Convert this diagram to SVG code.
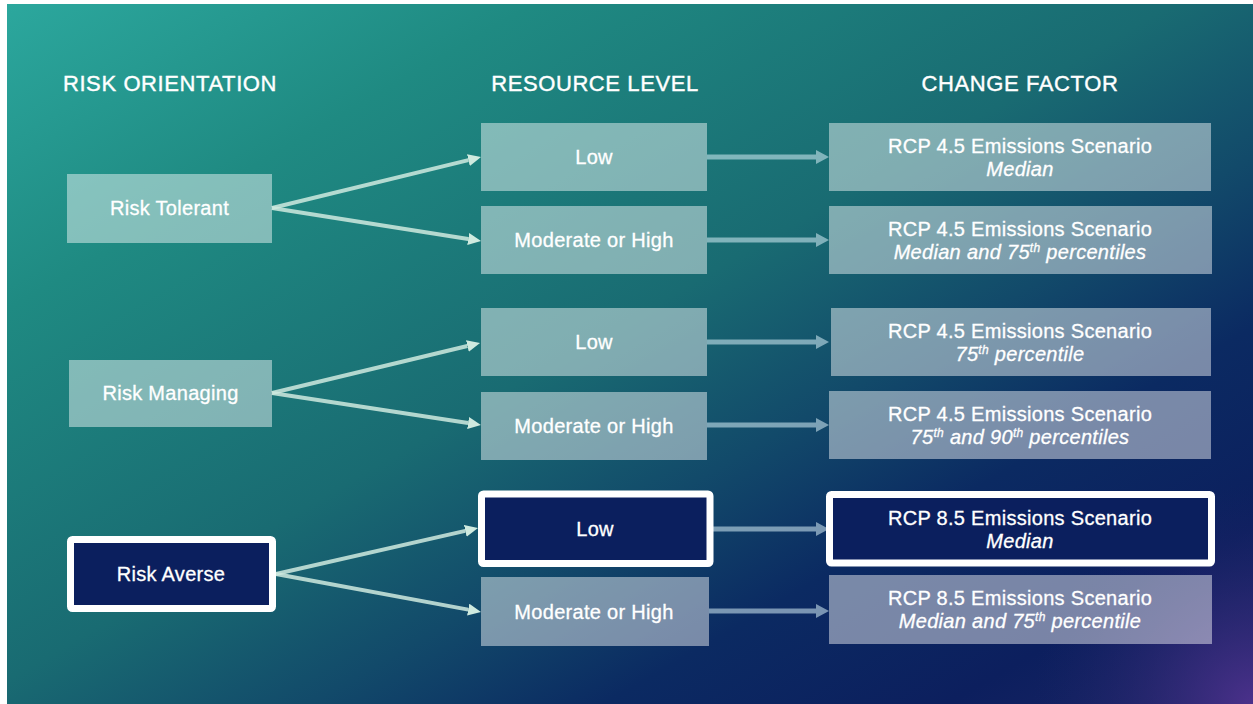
<svg xmlns="http://www.w3.org/2000/svg" width="1253" height="704" viewBox="0 0 1253 704">
  <defs>
    <linearGradient id="bg" gradientUnits="userSpaceOnUse" x1="0" y1="0" x2="618" y2="1066">
      <stop offset="0" stop-color="#2ca89e"/>
      <stop offset="0.22" stop-color="#1f8a82"/>
      <stop offset="0.48" stop-color="#196b72"/>
      <stop offset="0.62" stop-color="#124a6a"/>
      <stop offset="0.74" stop-color="#0b2a62"/>
      <stop offset="0.88" stop-color="#0c1f5e"/>
      <stop offset="1" stop-color="#1c2466"/>
    </linearGradient>
    <radialGradient id="glow" gradientUnits="userSpaceOnUse" cx="1253" cy="704" r="220">
      <stop offset="0" stop-color="#50328f" stop-opacity="0.9"/>
      <stop offset="0.5" stop-color="#3a2c7c" stop-opacity="0.4"/>
      <stop offset="1" stop-color="#1c2466" stop-opacity="0"/>
    </radialGradient>
    <marker id="headFan" markerUnits="userSpaceOnUse" viewBox="0 0 13 12" markerWidth="13" markerHeight="12" refX="0" refY="6" orient="auto">
      <path d="M0,0 L13,6 L0,12 z" fill="#cfeadf"/>
    </marker>
    <marker id="headFlow" markerUnits="userSpaceOnUse" viewBox="0 0 13 14" markerWidth="13" markerHeight="14" refX="0" refY="7" orient="auto">
      <path d="M0,0 L13,7 L0,14 z" fill="#d6eef6"/>
    </marker>
    <style>
      text { font-family: "Liberation Sans", Arial, Helvetica, sans-serif; fill: #ffffff; text-anchor: middle; stroke: #ffffff; stroke-width: 0.3px; }
      .hdr { font-size: 22px; letter-spacing: 0.6px; stroke-width: 0.4px; }
      .lbl { font-size: 20px; letter-spacing: 0.3px; }
      .it { font-size: 20px; letter-spacing: 0.3px; font-style: italic; }
      .sup { font-size: 12px; }
      .soft { fill: #ffffff; fill-opacity: 0.45; }
      .key { fill: #0b1f5e; stroke: #ffffff; stroke-width: 7; }
      .fan { stroke: #cfeadf; stroke-opacity: 0.85; stroke-width: 4; fill: none; marker-end: url(#headFan); }
      .flow { stroke: #d6eef6; stroke-width: 5; fill: none; opacity: 0.55; marker-end: url(#headFlow); }
    </style>
  </defs>

  <!-- backdrop -->
  <rect x="0" y="0" width="1253" height="704" fill="#ffffff"/>
  <rect x="7" y="4" width="1246" height="700" fill="url(#bg)"/>
  <rect x="7" y="4" width="1246" height="700" fill="url(#glow)"/>

  <!-- column headings -->
  <g id="headings">
    <text class="hdr" x="170" y="91">RISK ORIENTATION</text>
    <text class="hdr" x="595" y="91">RESOURCE LEVEL</text>
    <text class="hdr" x="1020" y="91">CHANGE FACTOR</text>
  </g>

  <!-- connectors -->
  <g id="connectors">
    <path class="fan" d="M272,208 L468.4,160.1"/>
    <path class="fan" d="M272,208 L468.2,239"/>
    <path class="fan" d="M272,393 L467.4,346"/>
    <path class="fan" d="M272,393 L468.1,423"/>
    <path class="fan" d="M276,574 L465.3,530.9"/>
    <path class="fan" d="M276,574 L468.2,609.6"/>

    <path class="flow" d="M707,157 L816,157"/>
    <path class="flow" d="M707,240 L816,240"/>
    <path class="flow" d="M707,342 L816,342"/>
    <path class="flow" d="M707,425 L816,425"/>
    <path class="flow" d="M713,529 L816,529"/>
    <path class="flow" d="M709,611 L816,611"/>
  </g>

  <!-- risk orientation -->
  <g id="risk-tolerant">
    <rect class="soft" x="67" y="174" width="205" height="69"/>
    <text class="lbl" x="169.5" y="215">Risk Tolerant</text>
  </g>
  <g id="risk-managing">
    <rect class="soft" x="69" y="360" width="203" height="67"/>
    <text class="lbl" x="170.5" y="400">Risk Managing</text>
  </g>
  <g id="risk-averse">
    <rect class="key" x="70.5" y="539.5" width="202" height="69" rx="2"/>
    <text class="lbl" x="171" y="581">Risk Averse</text>
  </g>

  <!-- resource level -->
  <g id="tolerant-low">
    <rect class="soft" x="481" y="123" width="226" height="68"/>
    <text class="lbl" x="594" y="164">Low</text>
  </g>
  <g id="tolerant-high">
    <rect class="soft" x="481" y="206" width="226" height="68"/>
    <text class="lbl" x="594" y="247">Moderate or High</text>
  </g>
  <g id="managing-low">
    <rect class="soft" x="481" y="308" width="226" height="68"/>
    <text class="lbl" x="594" y="349">Low</text>
  </g>
  <g id="managing-high">
    <rect class="soft" x="481" y="392" width="226" height="68"/>
    <text class="lbl" x="594" y="433">Moderate or High</text>
  </g>
  <g id="averse-low">
    <rect class="key" x="481.5" y="494" width="228.5" height="69.5" rx="2"/>
    <text class="lbl" x="595" y="535.5">Low</text>
  </g>
  <g id="averse-high">
    <rect class="soft" x="481" y="577" width="228" height="69"/>
    <text class="lbl" x="594" y="618.5">Moderate or High</text>
  </g>

  <!-- change factor -->
  <g id="cf-tolerant-low">
    <rect class="soft" x="829" y="123" width="382" height="68"/>
    <text class="lbl" x="1020" y="153">RCP 4.5 Emissions Scenario</text>
    <text class="it" x="1020" y="176">Median</text>
  </g>
  <g id="cf-tolerant-high">
    <rect class="soft" x="829" y="206" width="383" height="68"/>
    <text class="lbl" x="1020" y="236">RCP 4.5 Emissions Scenario</text>
    <text class="it" x="1020" y="259">Median and 75<tspan class="sup" dy="-7">th</tspan><tspan dy="7"> percentiles</tspan></text>
  </g>
  <g id="cf-managing-low">
    <rect class="soft" x="831" y="308" width="380" height="68"/>
    <text class="lbl" x="1020" y="338">RCP 4.5 Emissions Scenario</text>
    <text class="it" x="1020" y="361">75<tspan class="sup" dy="-7">th</tspan><tspan dy="7"> percentile</tspan></text>
  </g>
  <g id="cf-managing-high">
    <rect class="soft" x="829" y="391" width="382" height="68"/>
    <text class="lbl" x="1020" y="421">RCP 4.5 Emissions Scenario</text>
    <text class="it" x="1020" y="444">75<tspan class="sup" dy="-7">th</tspan><tspan dy="7"> and 90</tspan><tspan class="sup" dy="-7">th</tspan><tspan dy="7"> percentiles</tspan></text>
  </g>
  <g id="cf-averse-low">
    <rect class="key" x="829.5" y="494.5" width="382" height="68.5" rx="2"/>
    <text class="lbl" x="1020" y="524.5">RCP 8.5 Emissions Scenario</text>
    <text class="it" x="1020" y="547.5">Median</text>
  </g>
  <g id="cf-averse-high">
    <rect class="soft" x="829" y="575" width="383" height="69"/>
    <text class="lbl" x="1020" y="605">RCP 8.5 Emissions Scenario</text>
    <text class="it" x="1020" y="628">Median and 75<tspan class="sup" dy="-7">th</tspan><tspan dy="7"> percentile</tspan></text>
  </g>
</svg>
